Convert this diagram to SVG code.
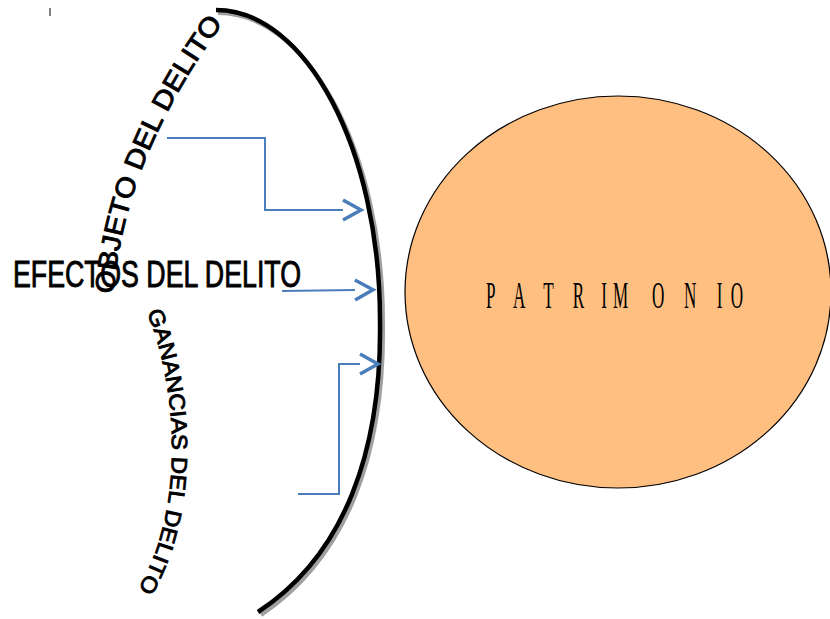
<svg xmlns="http://www.w3.org/2000/svg" width="830" height="619" viewBox="0 0 830 619">
<style>
.lbl{font-family:"Liberation Sans",Arial,sans-serif;fill:#000;stroke:#000;stroke-width:0.9}
.conn{fill:none;stroke:#4a7ebb;stroke-width:2}
</style>
<defs>
<marker id="chev" markerUnits="userSpaceOnUse" markerWidth="24" markerHeight="24" viewBox="0 0 24 24" refX="2" refY="12" orient="auto" overflow="visible">
<path d="M2,2 L20,12 L2,22" fill="none" stroke="#4a7ebb" stroke-width="3.5"/>
</marker>
<path id="p-objeto" d="M 114 294 C 120 200, 160 110, 224 22"/>
<path id="p-ganancias" d="M 147 312 C 182 400, 182 520, 136 592"/>
</defs>
<rect width="830" height="619" fill="#fff"/>
<line x1="50" y1="8" x2="50" y2="16" stroke="#000" stroke-width="1"/>
<g id="arc">
<path d="M 218 13 C 308 13, 383 151, 383 322 C 385 452, 348 557, 261 615" fill="none" stroke="#a0a0a0" stroke-width="4"/>
<path d="M 216 10 C 306 10, 380 149, 380 320 C 382 450, 345 555, 258 612" fill="none" stroke="#000" stroke-width="4.5"/>
</g>
<g id="patrimonio">
<ellipse cx="618" cy="292" rx="213" ry="196" fill="#ffbf80" stroke="#000" stroke-width="1.2"/>
<text font-family="'Liberation Serif','Times New Roman',serif" font-size="38" fill="#000" transform="translate(0,308) scale(0.45,1)" x="1080 1140 1207 1273 1336 1362 1449 1520 1593 1624" y="0">PATRIMONIO</text>
</g>
<g id="objeto">
<text class="lbl" font-size="27"><textPath href="#p-objeto" textLength="296" lengthAdjust="spacingAndGlyphs">OBJETO DEL DELITO</textPath></text>
</g>
<g id="efectos">
<text class="lbl" font-size="36" x="13" y="287" textLength="288" lengthAdjust="spacingAndGlyphs">EFECTOS DEL DELITO</text>
</g>
<g id="ganancias">
<text class="lbl" font-size="22"><textPath href="#p-ganancias" textLength="286" lengthAdjust="spacingAndGlyphs">GANANCIAS DEL DELITO</textPath></text>
</g>
<g id="connectors">
<path class="conn" d="M 167 138 L 265 138 L 265 210 L 343 210" marker-end="url(#chev)"/>
<path class="conn" d="M 282 291 L 355 290" marker-end="url(#chev)"/>
<path class="conn" d="M 298 494 L 339 494 L 339 364 L 360 364" marker-end="url(#chev)"/>
</g>
</svg>
